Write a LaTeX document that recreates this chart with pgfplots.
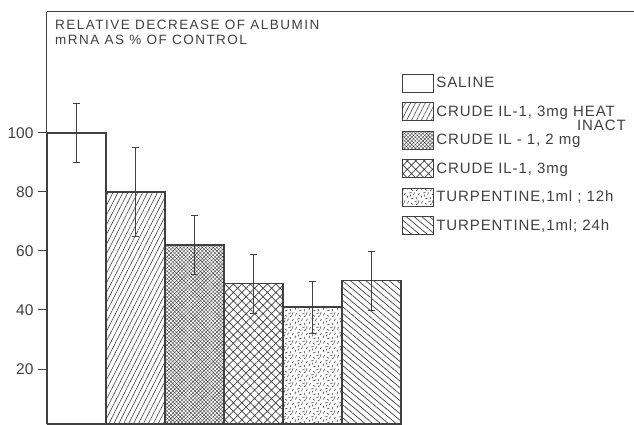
\documentclass[border=0pt]{standalone}
\usepackage{fontspec}
\setmainfont{Liberation Sans}
\usepackage{pgfplots}
\pgfplotsset{compat=1.18}
\usetikzlibrary{patterns,patterns.meta}

\pgfdeclarepatternformonly{rdash}{\pgfpoint{-1pt}{-1pt}}{\pgfpoint{15pt}{15pt}}{\pgfpoint{14pt}{14pt}}{
 \pgfsetlinewidth{0.55pt}
 \pgfpathmoveto{\pgfpoint{1pt}{2pt}}\pgfpathlineto{\pgfpoint{2pt}{4.5pt}}
 \pgfpathmoveto{\pgfpoint{5pt}{1pt}}\pgfpathlineto{\pgfpoint{7.5pt}{2pt}}
 \pgfpathmoveto{\pgfpoint{10pt}{3pt}}\pgfpathlineto{\pgfpoint{11pt}{0.8pt}}
 \pgfpathmoveto{\pgfpoint{12pt}{5pt}}\pgfpathlineto{\pgfpoint{13.5pt}{7pt}}
 \pgfpathmoveto{\pgfpoint{3pt}{7pt}}\pgfpathlineto{\pgfpoint{5.5pt}{7.5pt}}
 \pgfpathmoveto{\pgfpoint{7.5pt}{5pt}}\pgfpathlineto{\pgfpoint{8.5pt}{7.5pt}}
 \pgfpathmoveto{\pgfpoint{10pt}{9pt}}\pgfpathlineto{\pgfpoint{12pt}{10.5pt}}
 \pgfpathmoveto{\pgfpoint{1.5pt}{10.5pt}}\pgfpathlineto{\pgfpoint{2.5pt}{13pt}}
 \pgfpathmoveto{\pgfpoint{5pt}{11pt}}\pgfpathlineto{\pgfpoint{7pt}{9.5pt}}
 \pgfpathmoveto{\pgfpoint{8.5pt}{12.5pt}}\pgfpathlineto{\pgfpoint{11pt}{13pt}}
 \pgfpathmoveto{\pgfpoint{12.5pt}{11.5pt}}\pgfpathlineto{\pgfpoint{13pt}{13.8pt}}
 \pgfpathmoveto{\pgfpoint{4pt}{3.5pt}}\pgfpathlineto{\pgfpoint{5pt}{5.5pt}}
 \pgfusepath{stroke}}

\definecolor{ink}{gray}{0.25}

\begin{document}
\begin{tikzpicture}[font=\fontsize{15}{18}\selectfont]
\begin{axis}[
  scale only axis, width=587pt, height=412pt,
  xmin=0, xmax=9.949, ymin=1.36, ymax=141,
  axis x line=top, axis y line=left,
  axis line style={-, line width=1pt, ink},
  xtick=\empty,
  ytick={20,40,60,80,100},
  tick align=outside, major tick length=9pt,
  ytick style={line width=1pt, ink},
  /pgf/number format/assume math mode=true,
  yticklabel style={font=\fontsize{15.5}{18}\selectfont, text=ink, xshift=-1pt},
  legend cell align=left,
  legend style={draw=none, fill=none, at={(0.600,0.855)}, anchor=north west,
    row sep=9.4pt, font=\fontsize{15}{18}\selectfont\addfontfeatures{LetterSpace=6}, text=ink},
  legend image code/.code={\draw[#1, line width=1pt] (0pt,-9pt) rectangle (31pt,9pt);},
  every axis plot/.append style={ybar, bar width=59pt, bar shift=0pt, draw=ink, line width=1.2pt,
    error bars/y dir=both, error bars/y explicit,
    error bars/error bar style={line width=0.8pt, ink},
    error bars/error mark options={rotate=90, mark size=3.2pt, line width=0.8pt, ink}},
]
\addplot[fill=white] coordinates {(0.5,100) +- (0,10)};
\addlegendentry{SALINE}
\addplot[pattern={Lines[angle=63,distance=4.4pt,line width=0.6pt]}, pattern color=ink] coordinates {(1.5,80) +- (0,15)};
\addlegendentry{CRUDE IL-1, 3mg \makebox[0pt][l]{\raisebox{-14pt}[0pt][0pt]{\hspace{4pt}INACT}}HEAT}
\addplot[pattern={Hatch[angle=45,distance=2.6pt,line width=0.4pt]}, pattern color=ink] coordinates {(2.5,62) +- (0,10)};
\addlegendentry{CRUDE IL - 1, 2 mg}
\addplot[pattern={Hatch[angle=45,distance=6pt,line width=0.7pt]}, pattern color=ink] coordinates {(3.5,49) +- (0,10)};
\addlegendentry{CRUDE IL-1, 3mg}
\addplot[pattern=rdash, pattern color=ink] coordinates {(4.5,41) +- (0,8.8)};
\addlegendentry{TURPENTINE,1ml ; 12h}
\addplot[pattern={Lines[angle=140,distance=5pt,line width=0.7pt]}, pattern color=ink] coordinates {(5.5,50) +- (0,10)};
\addlegendentry{TURPENTINE,1ml; 24h}
\node[anchor=north west, align=left, inner sep=0pt, text=ink,
  font=\fontsize{13.5}{15}\selectfont\addfontfeatures{LetterSpace=11}]
  at (axis description cs:0.0136,0.9806) {RELATIVE DECREASE OF ALBUMIN\\ mRNA AS \% OF CONTROL};
\end{axis}
\pgfresetboundingbox
\path[use as bounding box] (current axis.south east) rectangle ([shift={(-47pt,12pt)}]current axis.north west);
\end{tikzpicture}
\end{document}
